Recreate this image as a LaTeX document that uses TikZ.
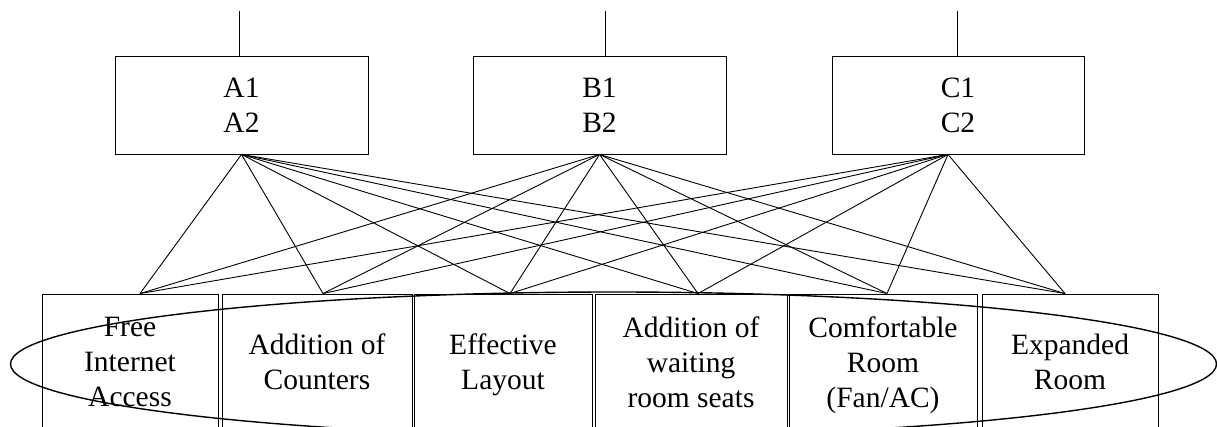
\documentclass[tikz,border=0pt]{standalone}
\usepackage{fontspec}
\setmainfont{Liberation Serif}
\usepackage{tikz}

\begin{document}
\begin{tikzpicture}[x=1pt,y=-1pt]
\useasboundingbox (0,0) rectangle (1217,427);
\clip (0,0) rectangle (1217,427);
\begin{scope}[every node/.style={rectangle,draw,line width=0.9pt,align=center,inner sep=0pt,
    font=\fontsize{29.5}{35}\selectfont,execute at end node=\rule[-6pt]{0pt}{6pt}}]
% upper level
\begin{scope}[every node/.append style={execute at begin node=\rule{0pt}{61.5pt}}]
\node[minimum width=253pt,minimum height=98pt] (A) at (241.5,105) {A1\\A2};
\node[minimum width=253pt,minimum height=98pt] (B) at (599.5,105) {B1\\B2};
\node[minimum width=252pt,minimum height=98pt] (C) at (958,105) {C1\\C2};
\end{scope}

% lower level
\node[minimum width=176pt,minimum height=142pt] (f1) at (130,365) {Free\\Internet\\Access};
\node[minimum width=190pt,minimum height=142pt] (f2) at (317,365) {Addition of\\Counters};
\node[minimum width=178pt,minimum height=142pt] (f3) at (503,365) {Effective\\Layout};
\node[minimum width=192pt,minimum height=142pt] (f4) at (691,365) {Addition of\\waiting\\room seats};
\node[minimum width=188pt,minimum height=142pt] (f5) at (883,365) {Comfortable\\Room\\(Fan/AC)};
\node[minimum width=176pt,minimum height=142pt] (f6) at (1070,365) {Expanded\\Room};
\end{scope}

\coordinate (Aup) at (239,11);
\coordinate (Bup) at (605,11);
\coordinate (Cup) at (957,11);
\draw[line width=0.9pt] (Aup) -- (Aup |- A.north);
\draw[line width=0.9pt] (Bup) -- (Bup |- B.north);
\draw[line width=0.9pt] (Cup) -- (Cup |- C.north);

\coordinate (Cfoot) at ([xshift=-10pt]C.south);
\coordinate (p1) at ([xshift=10pt]f1.north);
\coordinate (p2) at ([xshift=6pt]f2.north);
\coordinate (p3) at ([xshift=7pt]f3.north);
\coordinate (p4) at ([xshift=7pt]f4.north);
\coordinate (p5) at ([xshift=4pt]f5.north);
\coordinate (p6) at ([xshift=-5pt]f6.north);

\draw[line width=0.9pt] (A.south) -- (p1);
\draw[line width=0.9pt] (A.south) -- (p2);
\draw[line width=0.9pt] (A.south) -- (p3);
\draw[line width=0.9pt] (A.south) -- (p4);
\draw[line width=0.9pt] (A.south) -- (p5);
\draw[line width=0.9pt] (A.south) -- (p6);

\draw[line width=0.9pt] (B.south) -- (p1);
\draw[line width=0.9pt] (B.south) -- (p2);
\draw[line width=0.9pt] (B.south) -- (p3);
\draw[line width=0.9pt] (B.south) -- (p4);
\draw[line width=0.9pt] (B.south) -- (p5);
\draw[line width=0.9pt] (B.south) -- (p6);

\draw[line width=0.9pt] (Cfoot) -- (p1);
\draw[line width=0.9pt] (Cfoot) -- (p2);
\draw[line width=0.9pt] (Cfoot) -- (p3);
\draw[line width=0.9pt] (Cfoot) -- (p4);
\draw[line width=0.9pt] (Cfoot) -- (p5);
\draw[line width=0.9pt] (Cfoot) -- (p6);

% ring round the lower level
\draw[line width=1.4pt] (613.5,364) ellipse [x radius=603pt, y radius=72pt];
\end{tikzpicture}
\end{document}
